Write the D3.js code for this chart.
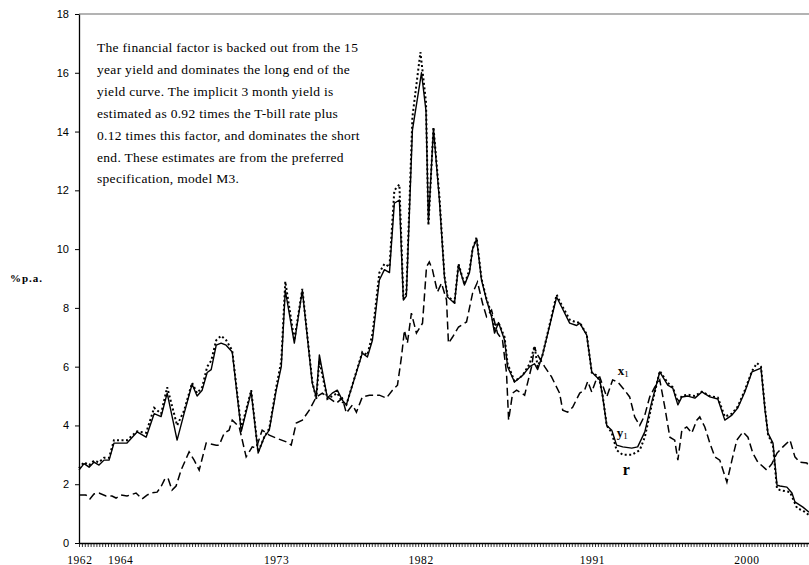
<!DOCTYPE html>
<html>
<head>
<meta charset="utf-8">
<script src="https://cdnjs.cloudflare.com/ajax/libs/d3/7.8.5/d3.min.js"></script>
<style>
  body { margin: 0; background: #fff; }
  svg { display: block; }
</style>
</head>
<body>
<script>
// values: [year, % p.a.]
const y1 = [[1961.60,2.48],[1961.89,2.70],[1962.18,2.58],[1962.46,2.75],[1962.75,2.65],[1963.04,2.82],[1963.33,2.82],[1963.61,3.40],[1964.36,3.40],[1964.94,3.78],[1965.46,3.60],[1965.92,4.40],[1966.32,4.30],[1966.67,5.10],[1967.24,3.50],[1967.64,4.40],[1968.10,5.40],[1968.39,5.00],[1968.68,5.20],[1968.97,5.80],[1969.20,5.90],[1969.49,6.73],[1969.77,6.80],[1970.06,6.73],[1970.41,6.50],[1970.93,3.80],[1971.50,5.14],[1971.90,3.06],[1972.25,3.60],[1972.54,3.84],[1972.94,5.20],[1973.23,6.00],[1973.46,8.60],[1973.98,6.80],[1974.44,8.60],[1975.01,5.44],[1975.24,4.97],[1975.42,6.40],[1975.88,4.93],[1976.16,5.10],[1976.45,5.20],[1976.74,4.86],[1976.97,4.70],[1977.89,6.46],[1978.18,6.33],[1978.47,6.90],[1978.87,8.95],[1979.16,9.30],[1979.45,9.20],[1979.73,11.56],[1980.02,11.67],[1980.25,8.27],[1980.42,8.40],[1980.77,14.05],[1981.29,16.00],[1981.55,14.70],[1981.69,10.90],[1981.98,14.10],[1982.32,11.67],[1982.61,9.05],[1982.79,8.37],[1983.19,8.16],[1983.42,9.46],[1983.76,8.78],[1984.05,9.20],[1984.23,10.00],[1984.46,10.34],[1984.74,8.95],[1985.03,8.27],[1985.32,7.70],[1985.49,7.14],[1985.72,7.50],[1986.07,6.90],[1986.24,6.00],[1986.64,5.48],[1987.10,5.70],[1987.51,6.00],[1987.79,6.10],[1987.97,5.90],[1988.25,6.40],[1989.06,8.37],[1989.35,8.03],[1989.81,7.48],[1990.21,7.40],[1990.39,7.48],[1990.79,7.07],[1991.08,5.82],[1991.36,5.65],[1991.54,5.55],[1991.71,4.97],[1991.94,4.00],[1992.23,3.84],[1992.51,3.33],[1992.86,3.27],[1993.38,3.23],[1993.72,3.27],[1994.13,3.78],[1994.53,4.80],[1994.99,5.82],[1995.45,5.37],[1995.74,5.27],[1996.03,4.70],[1996.26,4.97],[1996.60,5.00],[1997.01,4.93],[1997.41,5.14],[1997.87,4.97],[1998.33,4.90],[1998.73,4.18],[1999.14,4.35],[1999.48,4.60],[1999.88,5.14],[2000.29,5.82],[2000.81,5.95],[2001.04,4.52],[2001.21,3.74],[2001.50,3.40],[2001.73,1.97],[2001.90,1.94],[2002.30,1.90],[2002.59,1.70],[2002.76,1.40],[2003.22,1.22],[2003.57,1.05]];

const r = [[1961.60,2.55],[1961.89,2.75],[1962.18,2.65],[1962.46,2.80],[1962.75,2.75],[1963.04,2.90],[1963.33,2.90],[1963.61,3.50],[1964.36,3.50],[1964.94,3.80],[1965.46,3.75],[1965.92,4.60],[1966.32,4.40],[1966.67,5.30],[1967.24,4.00],[1967.64,4.50],[1968.10,5.45],[1968.39,5.10],[1968.68,5.30],[1968.97,6.00],[1969.20,6.20],[1969.49,6.90],[1969.77,7.05],[1970.06,6.90],[1970.41,6.55],[1970.93,3.90],[1971.50,5.20],[1971.90,3.10],[1972.25,3.60],[1972.54,3.90],[1972.94,5.30],[1973.23,6.20],[1973.46,8.90],[1973.98,6.90],[1974.44,8.65],[1975.01,5.50],[1975.24,4.90],[1975.42,6.20],[1975.88,4.90],[1976.16,5.00],[1976.45,5.10],[1976.74,4.80],[1976.97,4.70],[1977.89,6.50],[1978.18,6.40],[1978.47,7.10],[1978.87,9.20],[1979.16,9.50],[1979.45,9.40],[1979.73,12.00],[1980.02,12.20],[1980.25,8.30],[1980.42,8.50],[1980.77,14.50],[1981.23,16.70],[1981.55,15.00],[1981.69,10.80],[1981.98,14.15],[1982.32,11.80],[1982.61,9.10],[1982.79,8.40],[1983.19,8.20],[1983.42,9.50],[1983.76,8.80],[1984.05,9.30],[1984.23,10.00],[1984.46,10.40],[1984.74,9.00],[1985.03,8.30],[1985.32,7.80],[1985.49,7.30],[1985.72,7.50],[1986.07,7.00],[1986.24,6.10],[1986.64,5.50],[1987.10,5.70],[1987.51,6.10],[1987.79,6.70],[1987.97,6.00],[1988.25,6.40],[1989.06,8.45],[1989.35,8.10],[1989.81,7.60],[1990.21,7.50],[1990.39,7.50],[1990.79,7.10],[1991.08,5.80],[1991.36,5.70],[1991.54,5.50],[1991.71,5.00],[1991.94,4.00],[1992.23,3.75],[1992.51,3.16],[1992.86,3.00],[1993.38,3.00],[1993.84,3.16],[1994.13,3.60],[1994.53,4.70],[1994.99,5.85],[1995.45,5.45],[1995.74,5.30],[1996.03,4.80],[1996.26,5.00],[1996.60,5.05],[1997.01,5.00],[1997.41,5.15],[1997.87,5.00],[1998.33,4.95],[1998.73,4.30],[1999.14,4.40],[1999.48,4.65],[1999.88,5.20],[2000.29,5.85],[2000.58,6.12],[2000.81,6.00],[2001.04,4.60],[2001.21,3.70],[2001.50,3.30],[2001.73,1.85],[2001.90,1.80],[2002.48,1.73],[2002.88,1.19],[2003.22,1.10],[2003.57,0.95]];

const x1 = [[1961.60,1.63],[1962.00,1.63],[1962.23,1.50],[1962.46,1.67],[1962.75,1.70],[1963.15,1.60],[1963.50,1.60],[1963.73,1.53],[1964.02,1.63],[1964.36,1.60],[1964.88,1.70],[1965.23,1.50],[1965.51,1.63],[1965.74,1.70],[1966.09,1.73],[1966.32,1.92],[1966.55,2.20],[1966.72,2.20],[1966.95,1.80],[1967.18,1.94],[1967.47,2.48],[1967.93,3.10],[1968.22,2.82],[1968.51,2.48],[1968.91,3.40],[1969.49,3.33],[1969.66,3.33],[1969.95,3.74],[1970.23,3.84],[1970.41,4.18],[1970.81,3.95],[1971.21,2.93],[1971.56,3.27],[1971.79,3.23],[1972.13,3.84],[1972.54,3.67],[1972.94,3.57],[1973.52,3.44],[1973.80,3.33],[1974.09,4.08],[1974.44,4.18],[1974.84,4.52],[1975.24,4.97],[1975.59,5.10],[1975.99,4.93],[1976.40,4.76],[1976.74,4.93],[1976.97,4.42],[1977.32,4.70],[1977.55,4.45],[1977.89,4.97],[1978.30,5.03],[1978.87,5.03],[1979.27,4.93],[1979.62,5.20],[1979.91,5.37],[1980.14,6.33],[1980.31,7.24],[1980.48,6.80],[1980.71,7.82],[1981.00,7.14],[1981.35,7.48],[1981.58,9.40],[1981.74,9.56],[1981.92,9.30],[1982.21,8.54],[1982.44,8.84],[1982.73,8.27],[1982.84,6.80],[1983.07,7.00],[1983.42,7.35],[1983.88,7.52],[1984.23,8.50],[1984.51,8.88],[1984.80,8.16],[1985.03,7.70],[1985.32,7.92],[1985.66,7.14],[1985.95,6.90],[1986.18,5.78],[1986.30,4.18],[1986.53,5.10],[1986.76,5.20],[1987.05,5.10],[1987.22,5.03],[1987.33,5.30],[1987.62,6.00],[1987.79,6.67],[1987.91,6.46],[1988.37,6.00],[1988.77,5.65],[1989.23,5.10],[1989.41,4.52],[1989.69,4.45],[1989.98,4.62],[1990.39,5.10],[1990.67,5.20],[1990.85,5.50],[1991.08,5.14],[1991.36,5.60],[1991.54,5.65],[1991.94,4.97],[1992.28,5.55],[1992.57,5.48],[1992.97,5.20],[1993.26,4.97],[1993.55,4.29],[1993.84,4.00],[1994.13,4.35],[1994.41,4.97],[1994.70,5.30],[1994.99,5.55],[1995.28,4.62],[1995.57,3.60],[1995.85,3.50],[1996.03,2.82],[1996.26,3.84],[1996.54,3.95],[1996.83,3.74],[1997.12,4.18],[1997.29,4.29],[1997.58,3.95],[1997.87,3.40],[1998.16,2.93],[1998.44,2.82],[1998.85,2.07],[1999.14,2.82],[1999.42,3.50],[1999.77,3.78],[2000.06,3.60],[2000.34,3.06],[2000.63,2.75],[2001.15,2.48],[2001.44,2.70],[2001.73,3.06],[2002.07,3.27],[2002.48,3.50],[2002.76,2.93],[2003.05,2.75],[2003.45,2.72],[2003.57,2.60]];

const yTicks = [0, 2, 4, 6, 8, 10, 12, 14, 16, 18];
// the category labels of the original axis do not sit on an even year grid
const xTickLabels = ["1962", "1964", "1973", "1982", "1991", "2000"];
const xTickAt = [1961.65, 1964.0, 1972.96, 1981.27, 1991.12, 2000.0];
const note = [
  "The financial factor is backed out from the 15",
  "year yield and dominates the long end of the",
  "yield curve. The implicit 3 month yield is",
  "estimated as 0.92 times the T-bill rate plus",
  "0.12 times this factor, and dominates the short",
  "end. These estimates are from the preferred",
  "specification, model M3."
];
// series labels, placed at [year, value]
const seriesLabels = [
  {text: "x", sub: "1", at: [1992.57, 5.71], size: 13},
  {text: "y", sub: "1", at: [1992.51, 3.6], size: 13},
  {text: "r", sub: "", at: [1992.86, 2.31], size: 16}
];

const width = 809, height = 565;
const margin = {left: 79, right: 0, top: 14, bottom: 22};

const x = d3.scaleLinear()
    .domain([1961.6, 2003.57])
    .range([margin.left, width - margin.right]);
const y = d3.scaleLinear()
    .domain([0, 18])
    .range([height - margin.bottom, margin.top]);

const svg = d3.select("body").append("svg")
    .attr("width", width)
    .attr("height", height);

// top frame line
svg.append("line")
    .attr("x1", x.range()[0]).attr("x2", x.range()[1])
    .attr("y1", y(18)).attr("y2", y(18))
    .attr("stroke", "#9a9a9a")
    .attr("stroke-width", 1.5);

// y axis
const yAxis = svg.append("g")
    .attr("transform", `translate(${margin.left},0)`)
    .call(d3.axisLeft(y).tickValues(yTicks).tickSize(4).tickSizeOuter(0).tickPadding(6));
yAxis.select(".domain").attr("stroke", "#000").attr("stroke-width", 1.3);
yAxis.selectAll(".tick line").attr("stroke", "#000");
yAxis.selectAll(".tick text")
    .style("font-family", "'Liberation Sans', Arial, sans-serif")
    .style("font-size", "11px")
    .attr("fill", "#000");

svg.append("text")
    .attr("x", 10).attr("y", 282)
    .style("font-family", "'Liberation Serif', 'Times New Roman', serif")
    .style("font-size", "11px")
    .style("font-weight", "bold")
    .style("letter-spacing", "1px")
    .text("%p.a.");

// x axis: minor ticks every two months
const minor = d3.range(0, Math.floor((x.domain()[1] - x.domain()[0]) * 6) + 1)
    .map(i => x.domain()[0] + i / 6);
const xAxis = svg.append("g")
    .attr("transform", `translate(0,${y(0)})`)
    .call(d3.axisBottom(x).tickValues(minor).tickSize(4).tickSizeOuter(0).tickFormat(""));
xAxis.select(".domain").attr("stroke", "#000").attr("stroke-width", 1.3);
xAxis.selectAll(".tick line").attr("stroke", "#000").attr("stroke-width", 0.8);

svg.append("g").selectAll("text")
    .data(xTickLabels)
    .join("text")
      .attr("x", (d, i) => x(xTickAt[i]))
      .attr("y", height - 1)
      .attr("text-anchor", "middle")
      .style("font-family", "'Liberation Serif', 'Times New Roman', serif")
      .style("font-size", "11.5px")
      .style("letter-spacing", "0.6px")
      .text(d => d);

// note
svg.append("g").selectAll("text")
    .data(note)
    .join("text")
      .attr("x", 97)
      .attr("y", (d, i) => 52 + i * 21.9)
      .style("font-family", "'Liberation Serif', 'Times New Roman', serif")
      .style("font-size", "13.5px")
      .style("letter-spacing", "0.3px")
      .text(d => d);

// series
const line = d3.line()
    .x(d => x(d[0]))
    .y(d => y(d[1]));

svg.append("path")
    .datum(x1)
    .attr("fill", "none")
    .attr("stroke", "#000")
    .attr("stroke-width", 1.5)
    .attr("stroke-dasharray", "8,4")
    .attr("d", line);

svg.append("path")
    .datum(r)
    .attr("fill", "none")
    .attr("stroke", "#000")
    .attr("stroke-width", 2)
    .attr("stroke-dasharray", "2,2.5")
    .attr("d", line);

svg.append("path")
    .datum(y1)
    .attr("fill", "none")
    .attr("stroke", "#000")
    .attr("stroke-width", 1.4)
    .attr("stroke-linejoin", "round")
    .attr("d", line);

// series labels
const lab = svg.append("g").selectAll("text")
    .data(seriesLabels)
    .join("text")
      .attr("x", d => x(d.at[0]))
      .attr("y", d => y(d.at[1]))
      .style("font-family", "'Liberation Serif', 'Times New Roman', serif")
      .style("font-weight", "bold")
      .style("font-size", d => d.size + "px");
lab.append("tspan").text(d => d.text);
lab.append("tspan")
    .attr("dy", 2)
    .style("font-size", "9px")
    .style("font-weight", "normal")
    .text(d => d.sub);
</script>
</body>
</html>
